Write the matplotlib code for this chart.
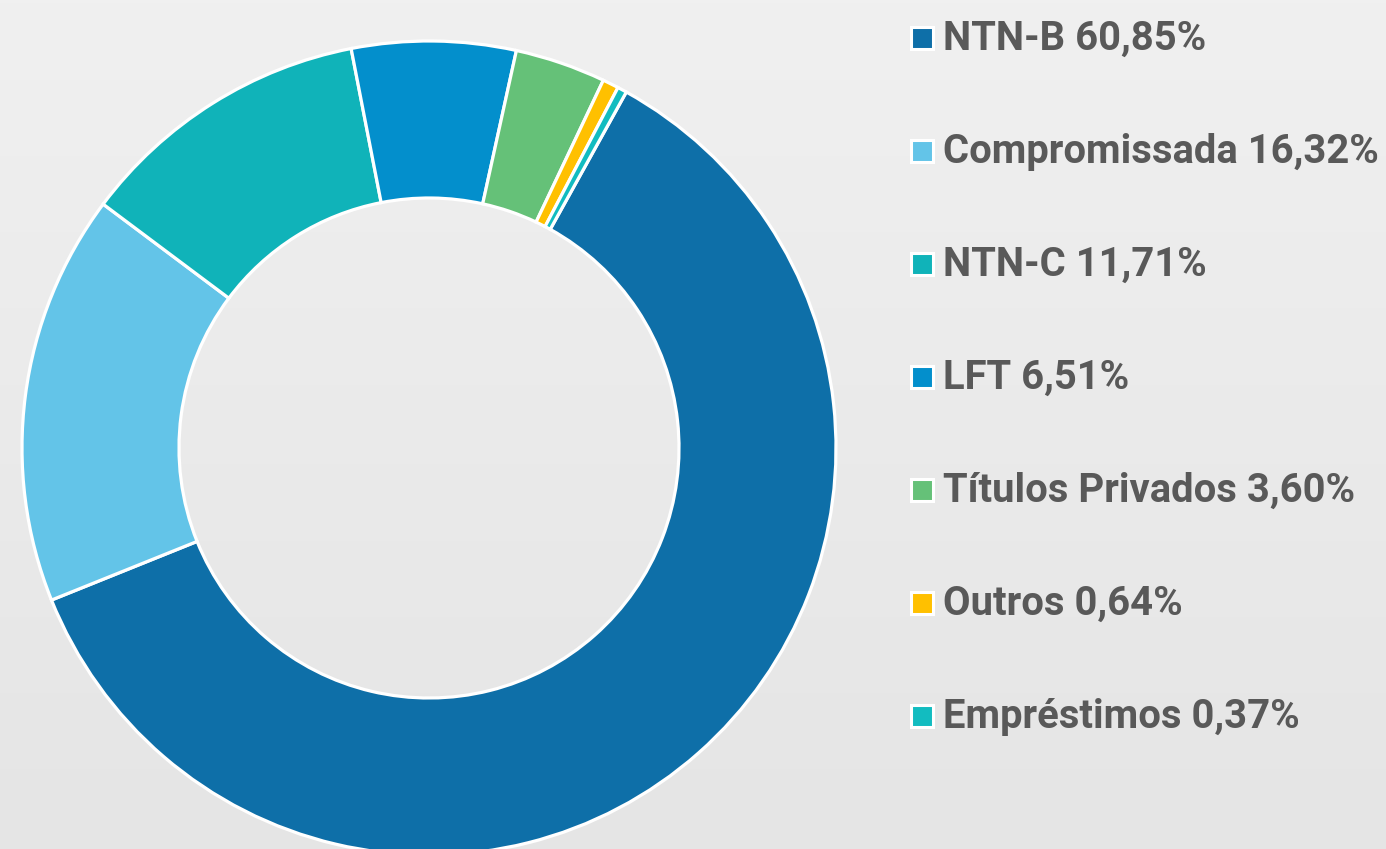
import matplotlib.pyplot as plt
from matplotlib.patches import Rectangle
import numpy as np

labels = ["NTN-B", "Compromissada", "NTN-C", "LFT", "Títulos Privados", "Outros", "Empréstimos"]
values = [60.85, 16.32, 11.71, 6.51, 3.60, 0.64, 0.37]
colors = ["#0e6fa8", "#63c4e8", "#10b3b9", "#038fcc", "#65c178", "#ffc000", "#12bcc0"]

W, H = 1386, 849
fig = plt.figure(figsize=(W / 100, H / 100), dpi=100)

# background gradient
bg = fig.add_axes([0, 0, 1, 1])
grad = np.linspace(0, 1, 256).reshape(-1, 1)
bg.imshow(grad, aspect="auto", cmap=plt.matplotlib.colors.LinearSegmentedColormap.from_list(
    "bg", ["#f0f0f0", "#e5e5e5"]), extent=[0, 1, 0, 1])
bg.axis("off")

ax = fig.add_axes([0, 0, 1, 1])
ax.patch.set_alpha(0)
cx, cy, r_out, r_in = 429, H - 448, 407, 250
ax.pie(values, colors=colors, startangle=61, counterclock=False,
       center=(cx, cy), radius=r_out,
       wedgeprops=dict(width=r_out - r_in, edgecolor="white", linewidth=2.3))
ax.set_xlim(0, W)
ax.set_ylim(0, H)
ax.set_aspect("auto")
ax.axis("off")

# legend
for i, (lab, val, col) in enumerate(zip(labels, values, colors)):
    yb = H - (50 + 113 * i)
    ax.add_patch(Rectangle((911, yb + 1), 22, 22, facecolor=col, edgecolor="white",
                           linewidth=2.2, clip_on=False))
    txt = "{} {}%".format(lab, "{:.2f}".format(val).replace(".", ","))
    ax.text(943, yb, txt, fontsize=28.8, fontweight="bold", family="Roboto",
            color="#595959", ha="left", va="baseline")

fig.savefig("out.png", dpi=100)
